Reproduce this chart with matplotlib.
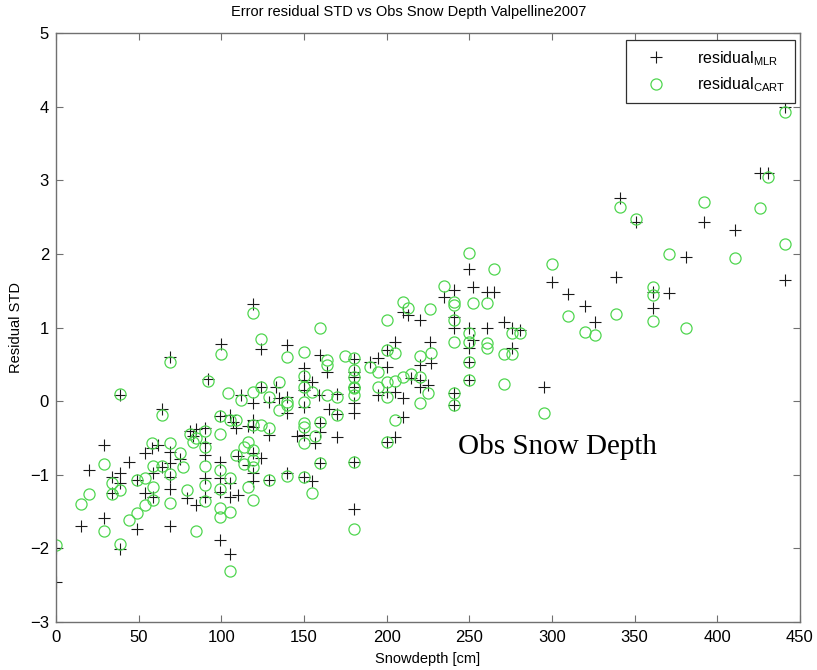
import matplotlib
matplotlib.use("Agg")
import matplotlib.pyplot as plt

plt.rcParams['font.family'] = ['Liberation Sans', 'DejaVu Sans']

# Multiple linear regression residuals: snow depth [cm] and residual STD
depth_mlr = [0, 0, 15, 20, 29, 29, 34, 34, 39, 39, 39, 39, 44, 49, 49, 54, 54, 58, 59, 59,
             62, 64, 64, 69, 69, 69, 69, 69, 69, 75, 79, 81, 83, 85, 85, 90, 90, 90, 90, 90,
             92, 99, 99, 99, 99, 99, 100, 105, 105, 105, 105, 107, 109, 110, 110, 112, 116, 116,
             119, 119, 119, 119, 119, 119, 119, 124, 124, 124, 129, 129, 129, 133, 135, 140, 140,
             140, 140, 146, 150, 150, 150, 150, 150, 150, 155, 155, 157, 159, 160, 160, 160, 160,
             164, 165, 170, 170, 170, 180, 180, 180, 180, 180, 180, 180, 180, 190, 195, 195, 200,
             200, 200, 200, 205, 205, 205, 210, 210, 210, 213, 215, 220, 220, 220, 220, 225, 226,
             227, 235, 241, 241, 241, 241, 241, 250, 250, 250, 250, 250, 252, 252, 261, 261, 265,
             271, 276, 276, 281, 295, 300, 310, 320, 326, 339, 341, 351, 361, 361, 371, 381, 392,
             411, 426, 431, 441, 441]
resid_mlr = [-2.00, -2.45, -1.70, -0.93, -0.60, -1.59, -1.03, -1.25, 0.08, -2.01, -0.98, -1.11,
             -0.83, -1.73, -1.07, -1.25, -0.71, -0.64, -1.30, -0.98, -0.60, -0.10, -0.90, 0.60,
             -0.69, -0.84, -1.03, -1.19, -1.70, -0.79, -1.31, -0.40, -0.48, -0.38, -1.41, -0.37,
             -0.57, -0.73, -1.04, -1.30, 0.30, -0.20, -0.83, -1.05, -1.24, -1.88, 0.77, -0.19,
             -1.11, -1.30, -2.08, -0.28, -0.37, -0.75, -1.28, 0.08, -0.34, -0.87, -0.26, -0.35,
             -0.71, -0.97, -1.08, -0.03, 1.32, 0.19, -0.77, 0.71, -0.01, -0.46, -1.07, 0.19, 0.04,
             0.06, -0.16, 0.76, -0.98, -0.48, 0.45, 0.29, 0.15, -0.08, -0.46, -1.03, 0.26, -1.08,
             -0.57, 0.08, -0.30, -0.42, -0.84, 0.63, 0.40, -0.10, 0.10, -0.17, -0.49, 0.57, 0.33,
             0.19, -0.03, -0.16, 0.39, -0.83, -1.46, 0.53, 0.58, 0.08, 0.46, 0.12, 0.69, -0.56,
             0.80, 0.12, -0.49, 0.04, 1.21, -0.22, 1.17, 0.31, 1.10, 0.29, 0.19, 0.49, 0.22, 0.80,
             0.52, 1.41, 1.51, 1.14, 0.99, 0.11, -0.05, 1.79, 0.99, 0.72, 0.53, 0.29, 1.55, 0.83,
             1.48, 0.99, 1.48, 1.07, 0.99, 0.72, 0.96, 0.19, 1.62, 1.45, 1.29, 1.07, 1.69, 2.76,
             2.44, 1.48, 1.26, 1.47, 1.96, 2.43, 2.32, 3.10, 3.10, 3.99, 1.64]

# Regression tree residuals
depth_cart = [0, 15, 20, 29, 29, 34, 34, 39, 39, 39, 44, 49, 49, 54, 54, 58, 59, 59, 59, 64, 64,
              69, 69, 69, 69, 75, 77, 79, 81, 83, 85, 85, 90, 90, 90, 90, 90, 92, 99, 99, 99, 99,
              99, 99, 100, 104, 105, 105, 105, 105, 109, 109, 112, 114, 114, 116, 116, 119, 119,
              119, 119, 119, 119, 119, 124, 124, 124, 129, 129, 129, 135, 135, 140, 140, 140, 140,
              150, 150, 150, 150, 150, 150, 150, 150, 155, 155, 157, 160, 160, 160, 164, 164, 164,
              170, 170, 175, 180, 180, 180, 180, 180, 180, 180, 180, 190, 195, 195, 200, 200, 200,
              200, 200, 205, 205, 205, 210, 210, 213, 215, 220, 220, 220, 225, 226, 227, 235, 241,
              241, 241, 241, 241, 241, 250, 250, 250, 250, 250, 252, 261, 261, 261, 265, 271, 271,
              276, 276, 281, 295, 300, 310, 320, 326, 339, 341, 351, 361, 361, 361, 371, 381, 392,
              411, 426, 431, 441, 441]
resid_cart = [-1.95, -1.40, -1.26, -0.86, -1.77, -1.11, -1.26, 0.10, -1.94, -1.20, -1.61, -1.52,
              -1.07, -1.41, -1.05, -0.57, -1.34, -0.88, -1.16, -0.19, -0.88, 0.53, -0.57, -0.99,
              -1.39, -0.71, -0.89, -1.21, -0.45, -0.55, -0.50, -1.76, -0.40, -0.62, -0.88, -1.14,
              -1.35, 0.28, -0.20, -0.44, -0.94, -1.19, -1.45, -1.57, 0.64, 0.11, -0.26, -1.05,
              -1.51, -2.31, -0.26, -0.73, 0.01, -0.62, -0.85, -0.56, -1.17, 0.12, -0.33, -0.66,
              -0.80, -0.89, -1.34, 1.20, 0.19, -0.33, 0.84, 0.05, -0.37, -1.07, 0.26, -0.12, -0.05,
              -0.01, 0.60, -1.02, 0.67, 0.34, 0.19, -0.01, -0.30, -0.35, -0.57, -1.03, 0.12, -1.25,
              -0.48, 0.99, -0.28, -0.84, 0.56, 0.49, 0.08, 0.05, -0.19, 0.61, 0.58, 0.42, 0.33,
              0.19, 0.18, 0.08, -0.83, -1.73, 0.46, 0.39, 0.19, 1.10, 0.69, 0.26, 0.05, -0.56, 0.65,
              0.28, -0.26, 1.34, 0.33, 1.26, 0.37, 0.62, 0.33, -0.03, 0.11, 1.25, 0.65, 1.57, 1.35,
              1.30, 1.10, 0.80, 0.11, -0.05, 2.01, 0.92, 0.80, 0.53, 0.29, 1.33, 1.33, 0.79, 0.72,
              1.79, 0.64, 0.23, 0.64, 0.92, 0.92, -0.16, 1.86, 1.16, 0.94, 0.90, 1.19, 2.64, 2.47,
              1.55, 1.44, 1.09, 2.00, 1.00, 2.70, 1.94, 2.62, 3.04, 3.93, 2.13]

x_ticks = [0, 50, 100, 150, 200, 250, 300, 350, 400, 450]
y_ticks = [-3, -2, -1, 0, 1, 2, 3, 4, 5]

fig = plt.figure(figsize=(8.17, 6.70), dpi=100)
ax = fig.add_axes([0.0685, 0.0716, 0.9105, 0.8791])

ax.plot(depth_mlr, resid_mlr, linestyle='none', marker='+', color='#1a1a1a',
        markersize=8, markeredgewidth=0.8, label='residual$_{\\mathregular{MLR}}$')
ax.plot(depth_cart, resid_cart, linestyle='none', marker='o', markerfacecolor='none',
        markeredgecolor='#4fd64f', markersize=8, markeredgewidth=0.9,
        label='residual$_{\\mathregular{CART}}$')

ax.set_xlim(0, 450)
ax.set_ylim(-3, 5)
ax.set_xticks(x_ticks)
ax.set_yticks(y_ticks)
ax.tick_params(direction='in', top=True, right=True, length=5, width=0.8,
               color='#707070', labelsize=12)
ax.tick_params(axis='x', pad=6)
ax.tick_params(axis='y', pad=5)
for side in ax.spines.values():
    side.set_color('#707070')
    side.set_linewidth(1.0)

ax.set_title('Error residual STD vs Obs Snow Depth Valpelline2007', fontsize=10.5,
             x=0.474, pad=12)
ax.set_xlabel('Snowdepth [cm]', fontsize=10.5, labelpad=5)
ax.set_ylabel('Residual STD', fontsize=10.5, labelpad=5)

ax.text(243, -0.62, 'Obs Snow Depth', family='Liberation Serif', fontsize=21,
        va='center', ha='left', color='black')

leg = ax.legend(loc='upper right', bbox_to_anchor=(0.993, 0.988), borderaxespad=0,
                fontsize=11.5, frameon=True, fancybox=False, edgecolor='#303030',
                framealpha=1, borderpad=0.55, handletextpad=1.3, labelspacing=0.5,
                handlelength=2.6)
leg.get_frame().set_linewidth(0.9)

fig.savefig('out.png', dpi=100)
